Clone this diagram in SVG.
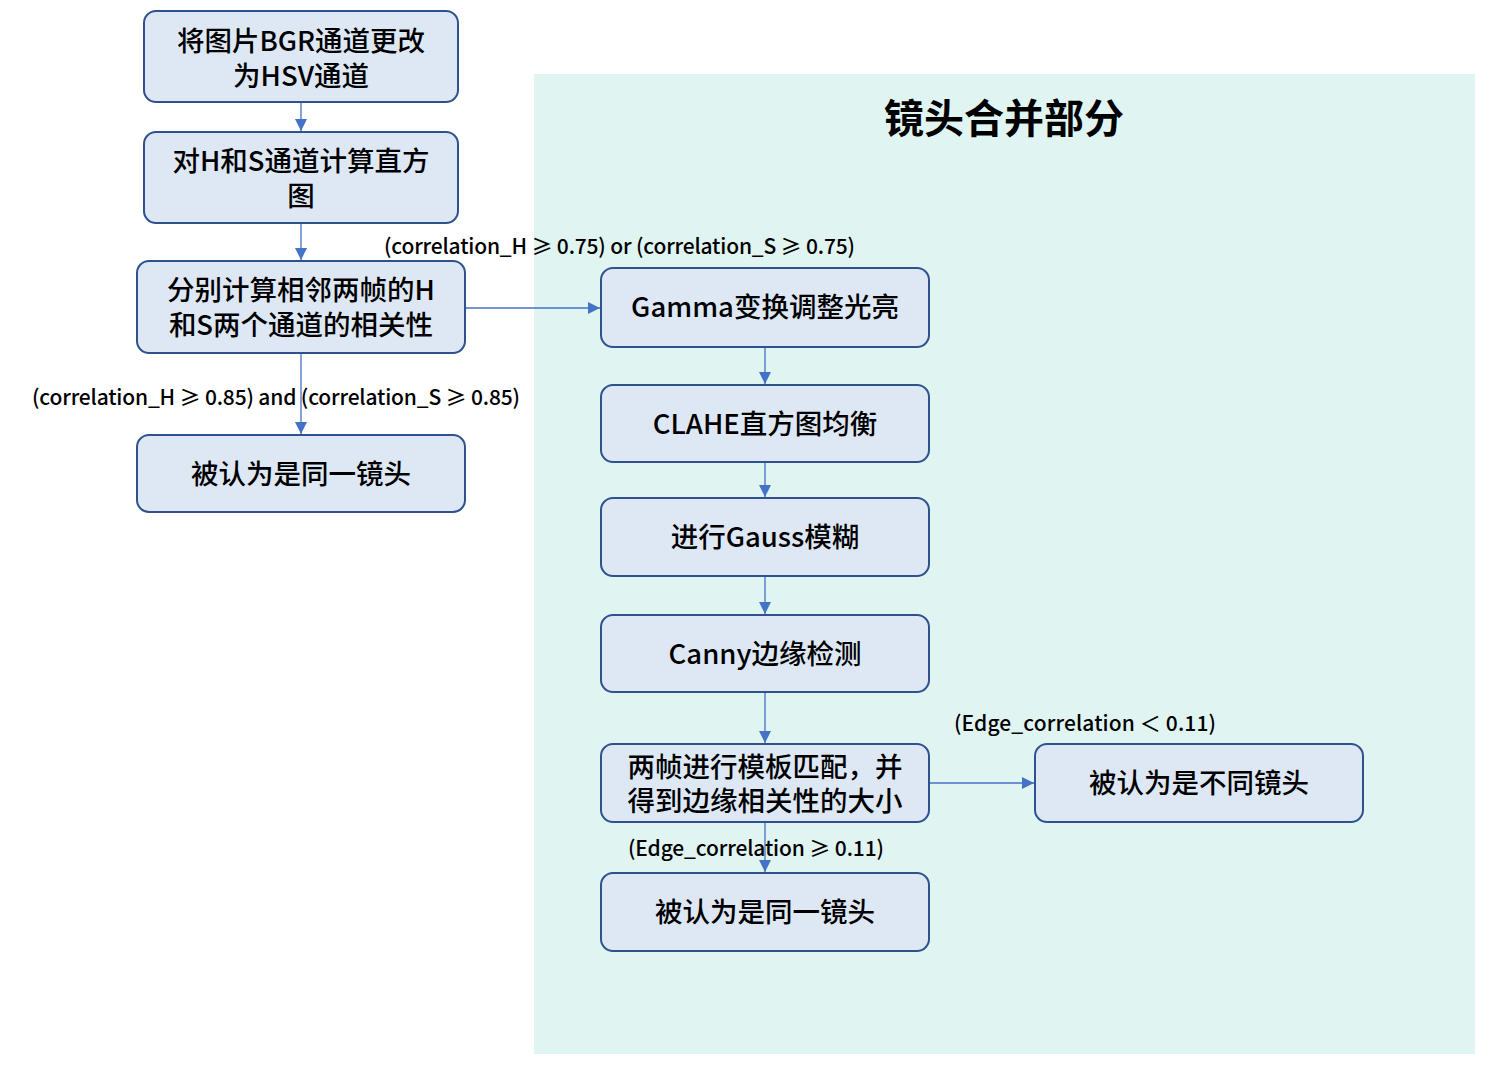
<svg xmlns="http://www.w3.org/2000/svg" width="1502" height="1075" viewBox="0 0 1502 1075">
<style>
.node rect{fill:#dee8f5;stroke:#2f528f;stroke-width:2}
.nt{font-family:"Microsoft YaHei","Noto Sans CJK SC",sans-serif;font-size:27.5px;font-weight:500;fill:#000;text-anchor:middle;dominant-baseline:central}
.lbl{font-family:"Microsoft YaHei","Noto Sans CJK SC",sans-serif;font-size:21px;font-weight:500;fill:#000}
.edge{stroke:#4472c4;stroke-width:1.3;fill:none;marker-end:url(#ah)}
</style>
<defs>
<marker id="ah" markerWidth="12" markerHeight="12" refX="10" refY="5" orient="auto" markerUnits="userSpaceOnUse" viewBox="0 0 10 10">
<path d="M0,0 L10,5 L0,10 z" fill="#4472c4"/>
</marker>
</defs>
<rect width="1502" height="1075" fill="#fff"/>
<g id="panel">
<rect x="534" y="74" width="941" height="980" fill="#e0f4f2"/>
<text x="1004" y="116" font-family="'Microsoft YaHei','Noto Sans CJK SC',sans-serif" font-size="40" font-weight="bold" text-anchor="middle" dominant-baseline="central">镜头合并部分</text>
</g>
<g id="connectors">
<line class="edge" x1="301" y1="103" x2="301" y2="131"/>
<line class="edge" x1="301" y1="224" x2="301" y2="260"/>
<line class="edge" x1="466" y1="308" x2="600" y2="308"/>
<line class="edge" x1="301" y1="354" x2="301" y2="434"/>
<line class="edge" x1="765" y1="348" x2="765" y2="384"/>
<line class="edge" x1="765" y1="463" x2="765" y2="497"/>
<line class="edge" x1="765" y1="577" x2="765" y2="614"/>
<line class="edge" x1="765" y1="693" x2="765" y2="743"/>
<line class="edge" x1="930" y1="783" x2="1034" y2="783"/>
<line class="edge" x1="765" y1="823" x2="765" y2="872"/>
<text class="lbl" x="384" y="254" textLength="471">(correlation_H ≥ 0.75) or (correlation_S ≥ 0.75)</text>
<text class="lbl" x="32" y="405" textLength="488">(correlation_H ≥ 0.85) and (correlation_S ≥ 0.85)</text>
<text class="lbl" x="954" y="731" textLength="262">(Edge_correlation ＜ 0.11)</text>
<text class="lbl" x="628" y="856" textLength="256">(Edge_correlation ≥ 0.11)</text>
</g>
<g id="n1" class="node"><rect x="144" y="11" width="314" height="91" rx="12"/><text class="nt" x="301" y="39">将图片BGR通道更改<tspan x="301" dy="35">为HSV通道</tspan></text></g>
<g id="n2" class="node"><rect x="144" y="132" width="314" height="91" rx="12"/><text class="nt" x="301" y="159">对H和S通道计算直方<tspan x="301" dy="35">图</tspan></text></g>
<g id="n3" class="node"><rect x="137" y="261" width="328" height="92" rx="12"/><text class="nt" x="301" y="288">分别计算相邻两帧的H<tspan x="301" dy="35">和S两个通道的相关性</tspan></text></g>
<g id="n4" class="node"><rect x="137" y="435" width="328" height="77" rx="12"/><text class="nt" x="301" y="472">被认为是同一镜头</text></g>
<g id="n5" class="node"><rect x="601" y="268" width="328" height="79" rx="12"/><text class="nt" x="765" y="305">Gamma变换调整光亮</text></g>
<g id="n6" class="node"><rect x="601" y="385" width="328" height="77" rx="12"/><text class="nt" x="765" y="422">CLAHE直方图均衡</text></g>
<g id="n7" class="node"><rect x="601" y="498" width="328" height="78" rx="12"/><text class="nt" x="765" y="535">进行Gauss模糊</text></g>
<g id="n8" class="node"><rect x="601" y="615" width="328" height="77" rx="12"/><text class="nt" x="765" y="652">Canny边缘检测</text></g>
<g id="n9" class="node"><rect x="601" y="744" width="328" height="78" rx="12"/><text class="nt" x="765" y="765">两帧进行模板匹配，并<tspan x="765" dy="34">得到边缘相关性的大小</tspan></text></g>
<g id="n10" class="node"><rect x="601" y="873" width="328" height="78" rx="12"/><text class="nt" x="765" y="910">被认为是同一镜头</text></g>
<g id="n11" class="node"><rect x="1035" y="744" width="328" height="78" rx="12"/><text class="nt" x="1199" y="781">被认为是不同镜头</text></g>
</svg>
